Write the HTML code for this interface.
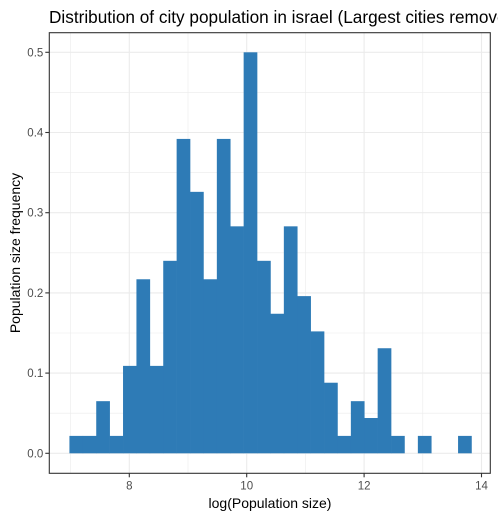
<!DOCTYPE html>
<html><head><meta charset="utf-8"><style>
html,body{margin:0;padding:0;background:#fff;}
svg{display:block;font-family:"Liberation Sans",Arial,sans-serif;}
</style></head><body>
<svg id="chart" width="498" height="518" viewBox="0 0 498 518">
<text x="49" y="23" font-size="17.2" fill="#000">Distribution of city population in israel (Largest cities removed)</text>
<g id="grid"></g>
<g id="bars"></g>
<rect x="49.3" y="32.7" width="441" height="440.6" fill="none" stroke="#333" stroke-width="1.1"/>
<g id="axes"></g>
<text x="270" y="508" font-size="14" text-anchor="middle" fill="#000">log(Population size)</text>
<text transform="translate(20,253) rotate(-90)" font-size="14" text-anchor="middle" fill="#000">Population size frequency</text>
</svg>
<script>
const binStart = 6.98;
const binWidth = 0.2283;
const freqs = [0.0217,0.0217,0.065,0.0217,0.109,0.217,0.109,0.240,0.392,0.326,0.217,0.392,0.283,0.5,0.240,0.174,0.283,0.196,0.152,0.088,0.0217,0.065,0.044,0.131,0.0217,0,0.0217,0,0,0.0217];
const xTicks = [8,10,12,14];
const xMinor = [7,9,11,13];
const yTicks = [0,0.1,0.2,0.3,0.4,0.5];
const yTickLabels = ["0.0","0.1","0.2","0.3","0.4","0.5"];
const yMinor = [0.05,0.15,0.25,0.35,0.45];

const NS="http://www.w3.org/2000/svg";
const px0=49.3, px1=490.3, py0=32.7, py1=473.3;
function xs(v){return 129.3+(v-8)*58.7;}
function ys(v){return 453.3-v*802;}
function mk(tag,attrs,parent){const e=document.createElementNS(NS,tag);for(const k in attrs)e.setAttribute(k,attrs[k]);document.getElementById(parent).appendChild(e);return e;}

xMinor.forEach(v=>{const l=mk('line',{x1:xs(v),x2:xs(v),y1:py0,y2:py1,stroke:'#ebebeb','stroke-width':0.6},'grid');

});
yMinor.forEach(v=>{const l=mk('line',{x1:px0,x2:px1,y1:ys(v),y2:ys(v),stroke:'#ebebeb','stroke-width':0.6},'grid');

});
xTicks.forEach(v=>{const l=mk('line',{x1:xs(v),x2:xs(v),y1:py0,y2:py1,stroke:'#ebebeb','stroke-width':1.1},'grid');

});
yTicks.forEach(v=>{const l=mk('line',{x1:px0,x2:px1,y1:ys(v),y2:ys(v),stroke:'#ebebeb','stroke-width':1.1},'grid');

});

freqs.forEach((f,i)=>{const x0=xs(binStart+i*binWidth), x1=xs(binStart+(i+1)*binWidth);
const r=mk('rect',{x:x0,y:ys(f),width:x1-x0+0.3,height:ys(0)-ys(f),fill:'#2e7bb6'},'bars');

});

xTicks.forEach(v=>{const t=mk('line',{x1:xs(v),x2:xs(v),y1:py1,y2:py1+4,stroke:'#333','stroke-width':1.1},'axes');


const l=mk('text',{x:xs(v),y:py1+16,'font-size':11.5,'text-anchor':'middle',fill:'#4d4d4d'},'axes');l.textContent=v;

});
yTicks.forEach((v,i)=>{const t=mk('line',{x1:px0-4,x2:px0,y1:ys(v),y2:ys(v),stroke:'#333','stroke-width':1.1},'axes');


const l=mk('text',{x:px0-6,y:ys(v)+4,'font-size':11.5,'text-anchor':'end',fill:'#4d4d4d'},'axes');l.textContent=yTickLabels[i];

});
</script>
</body></html>
